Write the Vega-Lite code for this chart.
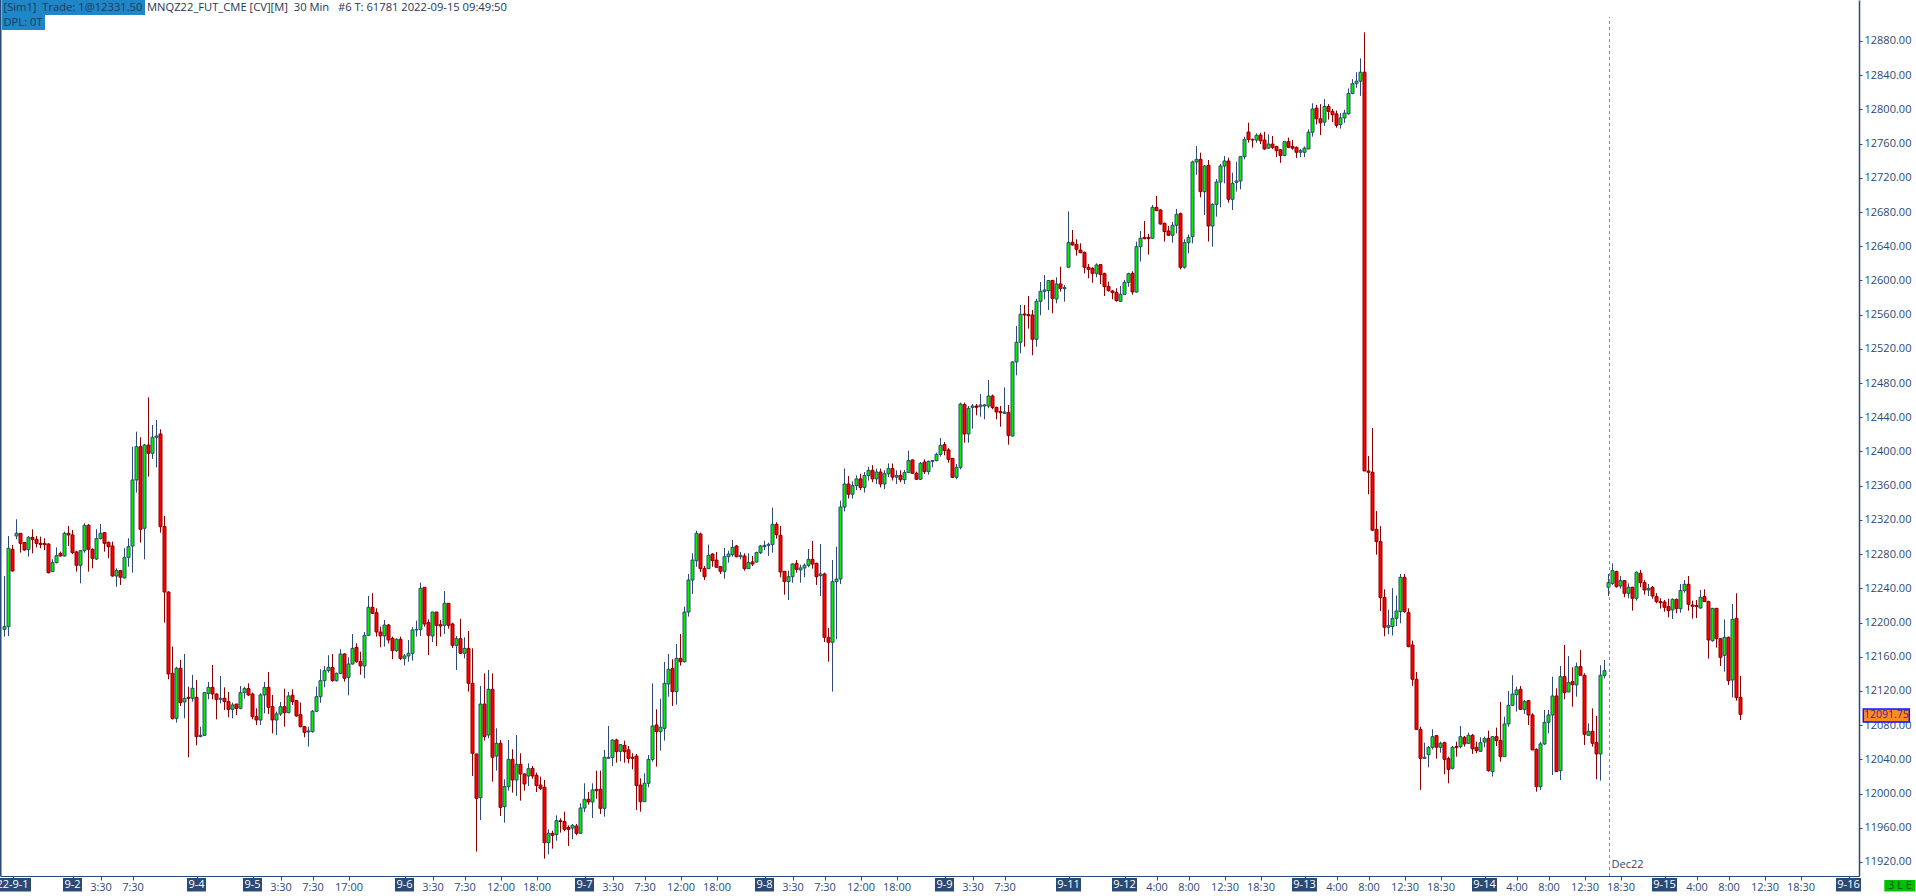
{
"$schema":"https://vega.github.io/schema/vega-lite/v6.json",
"width":1859,"height":876,
"autosize":{"type":"none"},
"padding":{"left":0,"top":0,"right":57,"bottom":16},
"background":"#ffffff",
"config":{"view":{"stroke":null},"font":"Open Sans","scale":{"continuousPadding":0},"axis":{"labelOverlap":false}},
"datasets":{
"bars":[
{"bar":0,"open":12192.0,"high":12254.4,"low":12183.5,"close":12195.2},
{"bar":1,"open":12195.2,"high":12301.2,"low":12184.3,"close":12286.8},
{"bar":2,"open":12285.6,"high":12290.7,"low":12259.5,"close":12260.3},
{"bar":3,"open":12301.2,"high":12320.7,"low":12297.3,"close":12304.3},
{"bar":4,"open":12304.3,"high":12304.3,"low":12281.7,"close":12292.6},
{"bar":5,"open":12293.4,"high":12294.2,"low":12284.0,"close":12284.8},
{"bar":6,"open":12285.6,"high":12301.2,"low":12277.0,"close":12299.6},
{"bar":7,"open":12299.6,"high":12309.0,"low":12280.9,"close":12297.3},
{"bar":8,"open":12297.3,"high":12301.2,"low":12287.9,"close":12292.6},
{"bar":9,"open":12292.6,"high":12300.4,"low":12286.8,"close":12291.4},
{"bar":10,"open":12292.6,"high":12298.5,"low":12284.8,"close":12291.1},
{"bar":11,"open":12291.8,"high":12292.6,"low":12257.5,"close":12258.3},
{"bar":12,"open":12259.5,"high":12273.9,"low":12259.5,"close":12270.0},
{"bar":13,"open":12270.0,"high":12287.9,"low":12269.2,"close":12278.2},
{"bar":14,"open":12280.9,"high":12282.9,"low":12277.0,"close":12277.8},
{"bar":15,"open":12277.8,"high":12306.3,"low":12277.0,"close":12304.3},
{"bar":16,"open":12304.3,"high":12312.9,"low":12289.5,"close":12302.4},
{"bar":17,"open":12302.4,"high":12308.2,"low":12280.1,"close":12281.7},
{"bar":18,"open":12282.5,"high":12284.0,"low":12259.5,"close":12266.9},
{"bar":19,"open":12266.9,"high":12284.8,"low":12245.8,"close":12284.0},
{"bar":20,"open":12284.0,"high":12316.0,"low":12281.7,"close":12313.7},
{"bar":21,"open":12313.7,"high":12315.2,"low":12259.5,"close":12285.6},
{"bar":22,"open":12285.6,"high":12286.8,"low":12263.4,"close":12275.1},
{"bar":23,"open":12274.3,"high":12309.0,"low":12273.1,"close":12298.1},
{"bar":24,"open":12298.1,"high":12315.2,"low":12297.3,"close":12304.3},
{"bar":25,"open":12305.1,"high":12305.9,"low":12282.9,"close":12292.6},
{"bar":26,"open":12293.8,"high":12294.6,"low":12275.1,"close":12288.7},
{"bar":27,"open":12289.5,"high":12294.6,"low":12253.6,"close":12254.4},
{"bar":28,"open":12254.4,"high":12263.4,"low":12241.9,"close":12260.7},
{"bar":29,"open":12260.7,"high":12261.4,"low":12243.9,"close":12252.9},
{"bar":30,"open":12252.1,"high":12286.8,"low":12251.3,"close":12276.2},
{"bar":31,"open":12276.2,"high":12298.5,"low":12265.3,"close":12288.7},
{"bar":32,"open":12289.5,"high":12405.6,"low":12258.3,"close":12366.7},
{"bar":33,"open":12366.7,"high":12423.2,"low":12351.9,"close":12405.6},
{"bar":34,"open":12405.6,"high":12416.6,"low":12293.4,"close":12309.0},
{"bar":35,"open":12310.2,"high":12408.8,"low":12273.9,"close":12407.6},
{"bar":36,"open":12407.6,"high":12463.3,"low":12370.6,"close":12397.9},
{"bar":37,"open":12397.9,"high":12431.0,"low":12391.2,"close":12416.6},
{"bar":38,"open":12416.6,"high":12436.8,"low":12381.5,"close":12418.1},
{"bar":39,"open":12420.5,"high":12425.9,"low":12305.1,"close":12312.1},
{"bar":40,"open":12312.1,"high":12324.6,"low":12199.9,"close":12235.7},
{"bar":41,"open":12235.7,"high":12236.5,"low":12133.6,"close":12139.8},
{"bar":42,"open":12140.6,"high":12171.8,"low":12086.8,"close":12087.6},
{"bar":43,"open":12088.0,"high":12148.4,"low":12082.9,"close":12146.5},
{"bar":44,"open":12146.5,"high":12156.2,"low":12102.4,"close":12106.3},
{"bar":45,"open":12107.1,"high":12163.2,"low":12088.0,"close":12111.4},
{"bar":46,"open":12112.5,"high":12125.0,"low":12042.4,"close":12111.4},
{"bar":47,"open":12111.4,"high":12138.7,"low":12107.5,"close":12123.1},
{"bar":48,"open":12112.5,"high":12132.8,"low":12056.4,"close":12066.6},
{"bar":49,"open":12066.6,"high":12078.2,"low":12065.8,"close":12068.1},
{"bar":50,"open":12068.1,"high":12118.8,"low":12067.3,"close":12118.0},
{"bar":51,"open":12117.2,"high":12130.5,"low":12110.2,"close":12124.2},
{"bar":52,"open":12124.2,"high":12150.4,"low":12110.2,"close":12116.4},
{"bar":53,"open":12116.4,"high":12117.2,"low":12086.8,"close":12110.2},
{"bar":54,"open":12110.2,"high":12137.5,"low":12105.5,"close":12111.4},
{"bar":55,"open":12111.4,"high":12124.2,"low":12097.7,"close":12107.5},
{"bar":56,"open":12107.5,"high":12118.8,"low":12089.2,"close":12098.5},
{"bar":57,"open":12098.5,"high":12106.3,"low":12088.0,"close":12103.6},
{"bar":58,"open":12104.7,"high":12104.7,"low":12091.9,"close":12099.7},
{"bar":59,"open":12099.7,"high":12125.8,"low":12098.5,"close":12118.0},
{"bar":60,"open":12118.0,"high":12125.0,"low":12111.0,"close":12122.7},
{"bar":61,"open":12122.7,"high":12128.9,"low":12114.1,"close":12115.3},
{"bar":62,"open":12116.4,"high":12118.0,"low":12086.8,"close":12089.9},
{"bar":63,"open":12089.9,"high":12099.7,"low":12080.2,"close":12086.0},
{"bar":64,"open":12086.0,"high":12117.2,"low":12080.2,"close":12115.3},
{"bar":65,"open":12115.3,"high":12130.5,"low":12093.8,"close":12124.2},
{"bar":66,"open":12124.2,"high":12142.2,"low":12093.1,"close":12100.9},
{"bar":67,"open":12101.6,"high":12115.3,"low":12070.4,"close":12086.0},
{"bar":68,"open":12086.0,"high":12095.8,"low":12068.5,"close":12093.1},
{"bar":69,"open":12093.1,"high":12107.1,"low":12090.7,"close":12101.6},
{"bar":70,"open":12101.6,"high":12122.7,"low":12078.2,"close":12094.6},
{"bar":71,"open":12094.6,"high":12118.8,"low":12093.8,"close":12114.1},
{"bar":72,"open":12114.9,"high":12121.9,"low":12103.6,"close":12107.5},
{"bar":73,"open":12108.6,"high":12109.4,"low":12089.9,"close":12090.7},
{"bar":74,"open":12092.3,"high":12106.3,"low":12077.5,"close":12078.2},
{"bar":75,"open":12078.2,"high":12079.0,"low":12065.8,"close":12071.6},
{"bar":76,"open":12072.0,"high":12078.2,"low":12054.9,"close":12073.2},
{"bar":77,"open":12072.4,"high":12097.7,"low":12071.2,"close":12096.2},
{"bar":78,"open":12096.2,"high":12125.0,"low":12095.4,"close":12113.3},
{"bar":79,"open":12113.3,"high":12145.3,"low":12106.3,"close":12132.0},
{"bar":80,"open":12132.0,"high":12149.2,"low":12124.2,"close":12143.7},
{"bar":81,"open":12143.7,"high":12161.7,"low":12141.4,"close":12147.6},
{"bar":82,"open":12147.6,"high":12163.2,"low":12130.9,"close":12132.0},
{"bar":83,"open":12132.0,"high":12141.4,"low":12130.9,"close":12140.6},
{"bar":84,"open":12140.6,"high":12168.7,"low":12139.8,"close":12163.2},
{"bar":85,"open":12163.2,"high":12164.0,"low":12130.9,"close":12134.8},
{"bar":86,"open":12135.9,"high":12159.3,"low":12114.9,"close":12151.5},
{"bar":87,"open":12151.5,"high":12186.6,"low":12150.7,"close":12169.8},
{"bar":88,"open":12171.0,"high":12175.7,"low":12153.1,"close":12154.2},
{"bar":89,"open":12154.2,"high":12165.9,"low":12139.0,"close":12149.2},
{"bar":90,"open":12149.2,"high":12188.9,"low":12134.8,"close":12185.0},
{"bar":91,"open":12185.0,"high":12231.0,"low":12184.3,"close":12217.8},
{"bar":92,"open":12217.8,"high":12234.2,"low":12210.0,"close":12210.8},
{"bar":93,"open":12211.5,"high":12216.6,"low":12183.5,"close":12188.9},
{"bar":94,"open":12188.9,"high":12195.2,"low":12171.0,"close":12184.3},
{"bar":95,"open":12184.3,"high":12203.0,"low":12171.8,"close":12197.1},
{"bar":96,"open":12197.1,"high":12198.3,"low":12175.7,"close":12179.6},
{"bar":97,"open":12181.5,"high":12183.5,"low":12157.0,"close":12167.1},
{"bar":98,"open":12167.1,"high":12181.5,"low":12165.9,"close":12180.4},
{"bar":99,"open":12180.4,"high":12183.5,"low":12156.2,"close":12158.1},
{"bar":100,"open":12158.1,"high":12163.2,"low":12150.0,"close":12160.9},
{"bar":101,"open":12160.9,"high":12179.6,"low":12154.2,"close":12164.0},
{"bar":102,"open":12164.0,"high":12194.4,"low":12155.4,"close":12191.3},
{"bar":103,"open":12191.3,"high":12202.2,"low":12183.5,"close":12192.0},
{"bar":104,"open":12192.0,"high":12246.6,"low":12184.3,"close":12240.0},
{"bar":105,"open":12241.2,"high":12241.2,"low":12195.2,"close":12198.3},
{"bar":106,"open":12199.8,"high":12203.7,"low":12162.0,"close":12185.0},
{"bar":107,"open":12184.3,"high":12212.3,"low":12177.2,"close":12212.3},
{"bar":108,"open":12212.3,"high":12212.3,"low":12172.6,"close":12196.7},
{"bar":109,"open":12197.5,"high":12203.0,"low":12183.5,"close":12196.0},
{"bar":110,"open":12196.7,"high":12236.9,"low":12186.6,"close":12222.5},
{"bar":111,"open":12222.5,"high":12222.5,"low":12192.8,"close":12196.7},
{"bar":112,"open":12198.3,"high":12199.8,"low":12170.2,"close":12173.3},
{"bar":113,"open":12173.3,"high":12184.3,"low":12144.5,"close":12181.1},
{"bar":114,"open":12181.1,"high":12204.5,"low":12163.2,"close":12164.0},
{"bar":115,"open":12164.0,"high":12182.7,"low":12158.1,"close":12169.8},
{"bar":116,"open":12169.8,"high":12190.1,"low":12119.2,"close":12128.9},
{"bar":117,"open":12128.9,"high":12169.8,"low":12020.5,"close":12047.1},
{"bar":118,"open":12046.3,"high":12046.3,"low":11932.1,"close":11994.4},
{"bar":119,"open":11995.2,"high":12125.8,"low":11969.1,"close":12104.7},
{"bar":120,"open":12104.7,"high":12140.6,"low":12061.9,"close":12066.5},
{"bar":121,"open":12068.5,"high":12144.5,"low":12064.6,"close":12121.9},
{"bar":122,"open":12121.9,"high":12140.6,"low":12013.9,"close":12042.4},
{"bar":123,"open":12043.9,"high":12076.3,"low":12026.8,"close":12058.8},
{"bar":124,"open":12058.8,"high":12062.6,"low":11973.8,"close":11983.9},
{"bar":125,"open":11984.7,"high":12016.7,"low":11966.0,"close":12008.1},
{"bar":126,"open":12008.1,"high":12062.6,"low":12003.4,"close":12040.0},
{"bar":127,"open":12040.0,"high":12051.7,"low":12001.1,"close":12015.9},
{"bar":128,"open":12015.9,"high":12068.5,"low":11997.2,"close":12034.2},
{"bar":129,"open":12034.2,"high":12047.1,"low":11991.7,"close":12022.9},
{"bar":130,"open":12022.9,"high":12023.7,"low":12003.4,"close":12011.2},
{"bar":131,"open":12020.5,"high":12035.4,"low":12008.9,"close":12029.1},
{"bar":132,"open":12029.5,"high":12032.2,"low":12017.4,"close":12020.5},
{"bar":133,"open":12021.3,"high":12024.5,"low":12001.8,"close":12009.3},
{"bar":134,"open":12010.0,"high":12019.8,"low":12004.2,"close":12006.1},
{"bar":135,"open":12007.3,"high":12015.9,"low":11923.9,"close":11942.6},
{"bar":136,"open":11942.6,"high":11958.2,"low":11928.9,"close":11953.5},
{"bar":137,"open":11953.5,"high":11956.6,"low":11935.6,"close":11951.2},
{"bar":138,"open":11952.0,"high":11974.6,"low":11944.9,"close":11968.3},
{"bar":139,"open":11968.3,"high":11971.1,"low":11954.3,"close":11967.2},
{"bar":140,"open":11967.2,"high":11978.8,"low":11955.9,"close":11958.2},
{"bar":141,"open":11960.5,"high":11962.9,"low":11938.7,"close":11958.2},
{"bar":142,"open":11959.7,"high":11964.4,"low":11946.5,"close":11962.9},
{"bar":143,"open":11962.1,"high":11964.4,"low":11951.2,"close":11953.5},
{"bar":144,"open":11953.5,"high":11988.6,"low":11952.7,"close":11983.1},
{"bar":145,"open":11983.1,"high":12012.0,"low":11978.5,"close":11993.3},
{"bar":146,"open":11993.3,"high":12001.8,"low":11987.0,"close":11990.2},
{"bar":147,"open":11990.2,"high":12012.0,"low":11971.4,"close":12004.2},
{"bar":148,"open":12005.0,"high":12026.8,"low":11994.0,"close":12003.4},
{"bar":149,"open":12005.0,"high":12026.8,"low":11976.1,"close":11982.7},
{"bar":150,"open":11982.7,"high":12051.0,"low":11973.0,"close":12042.4},
{"bar":151,"open":12041.2,"high":12079.0,"low":12041.2,"close":12042.4},
{"bar":152,"open":12042.4,"high":12063.4,"low":12032.2,"close":12062.6},
{"bar":153,"open":12062.6,"high":12064.2,"low":12036.1,"close":12049.0},
{"bar":154,"open":12049.4,"high":12058.0,"low":12037.7,"close":12057.2},
{"bar":155,"open":12056.4,"high":12061.9,"low":12036.1,"close":12049.0},
{"bar":156,"open":12051.0,"high":12055.6,"low":12035.4,"close":12041.2},
{"bar":157,"open":12042.4,"high":12047.1,"low":12028.3,"close":12041.2},
{"bar":158,"open":12043.9,"high":12046.3,"low":11980.8,"close":12009.3},
{"bar":159,"open":12010.0,"high":12017.8,"low":11978.8,"close":11990.5},
{"bar":160,"open":11990.5,"high":12023.7,"low":11990.5,"close":12012.0},
{"bar":161,"open":12012.0,"high":12045.1,"low":12007.3,"close":12040.0},
{"bar":162,"open":12040.0,"high":12128.9,"low":12037.3,"close":12079.0},
{"bar":163,"open":12080.2,"high":12098.5,"low":12031.5,"close":12072.4},
{"bar":164,"open":12072.4,"high":12111.0,"low":12050.2,"close":12077.5},
{"bar":165,"open":12076.3,"high":12153.9,"low":12061.9,"close":12128.9},
{"bar":166,"open":12128.1,"high":12163.2,"low":12113.3,"close":12145.3},
{"bar":167,"open":12146.1,"high":12157.0,"low":12102.4,"close":12119.2},
{"bar":168,"open":12119.2,"high":12174.9,"low":12104.0,"close":12158.1},
{"bar":169,"open":12158.1,"high":12186.6,"low":12149.6,"close":12154.2},
{"bar":170,"open":12154.2,"high":12218.6,"low":12153.1,"close":12212.3},
{"bar":171,"open":12212.3,"high":12256.8,"low":12206.9,"close":12249.7},
{"bar":172,"open":12249.7,"high":12280.9,"low":12233.4,"close":12273.1},
{"bar":173,"open":12272.3,"high":12307.4,"low":12265.3,"close":12304.3},
{"bar":174,"open":12303.5,"high":12305.1,"low":12259.1,"close":12263.0},
{"bar":175,"open":12263.0,"high":12266.1,"low":12249.7,"close":12253.6},
{"bar":176,"open":12263.0,"high":12291.1,"low":12263.0,"close":12278.6},
{"bar":177,"open":12280.1,"high":12280.9,"low":12265.3,"close":12272.3},
{"bar":178,"open":12273.1,"high":12282.5,"low":12264.6,"close":12264.6},
{"bar":179,"open":12265.3,"high":12266.1,"low":12256.8,"close":12259.9},
{"bar":180,"open":12259.9,"high":12287.2,"low":12251.3,"close":12277.0},
{"bar":181,"open":12277.0,"high":12284.0,"low":12270.0,"close":12280.1},
{"bar":182,"open":12279.4,"high":12296.5,"low":12277.0,"close":12287.9},
{"bar":183,"open":12289.5,"high":12290.7,"low":12276.2,"close":12277.0},
{"bar":184,"open":12277.0,"high":12282.5,"low":12273.9,"close":12278.6},
{"bar":185,"open":12277.8,"high":12280.9,"low":12260.6,"close":12263.0},
{"bar":186,"open":12263.0,"high":12280.9,"low":12263.0,"close":12270.0},
{"bar":187,"open":12270.8,"high":12277.8,"low":12266.1,"close":12268.4},
{"bar":188,"open":12270.8,"high":12282.9,"low":12270.0,"close":12281.7},
{"bar":189,"open":12281.7,"high":12290.7,"low":12280.1,"close":12289.5},
{"bar":190,"open":12288.7,"high":12295.7,"low":12284.8,"close":12290.3},
{"bar":191,"open":12290.3,"high":12293.4,"low":12277.8,"close":12291.4},
{"bar":192,"open":12291.4,"high":12334.3,"low":12281.7,"close":12314.8},
{"bar":193,"open":12314.8,"high":12317.2,"low":12298.1,"close":12302.7},
{"bar":194,"open":12302.0,"high":12312.9,"low":12252.9,"close":12259.1},
{"bar":195,"open":12259.9,"high":12259.9,"low":12232.6,"close":12247.8},
{"bar":196,"open":12247.8,"high":12260.6,"low":12226.3,"close":12253.6},
{"bar":197,"open":12253.6,"high":12269.2,"low":12246.6,"close":12268.4},
{"bar":198,"open":12269.2,"high":12273.1,"low":12258.3,"close":12262.2},
{"bar":199,"open":12261.4,"high":12267.7,"low":12246.6,"close":12263.8},
{"bar":200,"open":12263.8,"high":12269.2,"low":12252.9,"close":12266.9},
{"bar":201,"open":12266.9,"high":12286.0,"low":12264.6,"close":12273.9},
{"bar":202,"open":12273.9,"high":12295.3,"low":12263.0,"close":12268.4},
{"bar":203,"open":12269.2,"high":12270.0,"low":12243.9,"close":12253.6},
{"bar":204,"open":12254.8,"high":12291.8,"low":12231.0,"close":12256.8},
{"bar":205,"open":12256.8,"high":12258.3,"low":12177.2,"close":12182.7},
{"bar":206,"open":12182.7,"high":12193.6,"low":12154.2,"close":12176.9},
{"bar":207,"open":12176.9,"high":12273.1,"low":12119.2,"close":12247.8},
{"bar":208,"open":12247.8,"high":12288.7,"low":12180.4,"close":12250.9},
{"bar":209,"open":12250.9,"high":12342.5,"low":12245.0,"close":12335.0},
{"bar":210,"open":12335.0,"high":12380.3,"low":12330.0,"close":12362.0},
{"bar":211,"open":12362.0,"high":12371.4,"low":12345.0,"close":12350.0},
{"bar":212,"open":12350.0,"high":12365.0,"low":12345.0,"close":12360.0},
{"bar":213,"open":12360.0,"high":12372.0,"low":12355.0,"close":12368.0},
{"bar":214,"open":12368.0,"high":12374.0,"low":12355.0,"close":12358.0},
{"bar":215,"open":12358.0,"high":12376.0,"low":12352.0,"close":12372.0},
{"bar":216,"open":12372.0,"high":12382.0,"low":12366.0,"close":12378.0},
{"bar":217,"open":12378.0,"high":12384.0,"low":12364.0,"close":12368.0},
{"bar":218,"open":12368.0,"high":12380.0,"low":12362.0,"close":12376.0},
{"bar":219,"open":12376.0,"high":12380.0,"low":12358.0,"close":12362.0},
{"bar":220,"open":12362.0,"high":12378.0,"low":12356.0,"close":12374.0},
{"bar":221,"open":12374.0,"high":12386.0,"low":12370.0,"close":12380.0},
{"bar":222,"open":12380.0,"high":12386.0,"low":12366.0,"close":12370.0},
{"bar":223,"open":12370.0,"high":12378.0,"low":12362.0,"close":12372.0},
{"bar":224,"open":12372.0,"high":12378.0,"low":12364.0,"close":12367.0},
{"bar":225,"open":12367.0,"high":12378.4,"low":12362.0,"close":12375.3},
{"bar":226,"open":12375.3,"high":12401.0,"low":12375.3,"close":12389.3},
{"bar":227,"open":12390.1,"high":12390.8,"low":12374.5,"close":12374.5},
{"bar":228,"open":12374.5,"high":12376.4,"low":12366.7,"close":12367.5},
{"bar":229,"open":12367.5,"high":12387.7,"low":12366.7,"close":12386.2},
{"bar":230,"open":12387.7,"high":12390.8,"low":12373.7,"close":12376.4},
{"bar":231,"open":12376.4,"high":12389.3,"low":12372.9,"close":12388.5},
{"bar":232,"open":12388.5,"high":12390.1,"low":12381.5,"close":12389.3},
{"bar":233,"open":12389.3,"high":12398.6,"low":12388.5,"close":12396.7},
{"bar":234,"open":12396.7,"high":12415.8,"low":12394.0,"close":12407.2},
{"bar":235,"open":12408.0,"high":12411.1,"low":12395.5,"close":12401.0},
{"bar":236,"open":12401.8,"high":12404.1,"low":12386.9,"close":12390.8},
{"bar":237,"open":12392.0,"high":12392.0,"low":12369.0,"close":12369.8},
{"bar":238,"open":12369.8,"high":12385.4,"low":12367.5,"close":12381.5},
{"bar":239,"open":12381.5,"high":12457.1,"low":12379.1,"close":12455.5},
{"bar":240,"open":12454.8,"high":12457.1,"low":12410.3,"close":12420.5},
{"bar":241,"open":12420.5,"high":12453.2,"low":12410.3,"close":12450.5},
{"bar":242,"open":12451.6,"high":12455.5,"low":12426.7,"close":12453.2},
{"bar":243,"open":12453.2,"high":12455.5,"low":12442.3,"close":12451.6},
{"bar":244,"open":12452.4,"high":12467.2,"low":12440.7,"close":12454.4},
{"bar":245,"open":12453.2,"high":12455.5,"low":12437.6,"close":12454.4},
{"bar":246,"open":12453.2,"high":12483.6,"low":12450.5,"close":12464.9},
{"bar":247,"open":12464.9,"high":12466.5,"low":12449.3,"close":12451.6},
{"bar":248,"open":12451.6,"high":12452.4,"low":12437.6,"close":12446.2},
{"bar":249,"open":12446.6,"high":12453.2,"low":12429.0,"close":12445.4},
{"bar":250,"open":12444.6,"high":12475.0,"low":12443.9,"close":12446.2},
{"bar":251,"open":12445.4,"high":12454.4,"low":12408.0,"close":12418.9},
{"bar":252,"open":12418.1,"high":12505.4,"low":12417.3,"close":12504.7},
{"bar":253,"open":12504.7,"high":12546.8,"low":12489.1,"close":12527.7},
{"bar":254,"open":12527.7,"high":12571.3,"low":12514.8,"close":12560.4},
{"bar":255,"open":12560.8,"high":12571.3,"low":12522.6,"close":12559.6},
{"bar":256,"open":12560.0,"high":12581.8,"low":12543.6,"close":12558.8},
{"bar":257,"open":12559.6,"high":12565.5,"low":12512.5,"close":12531.2},
{"bar":258,"open":12531.2,"high":12578.7,"low":12522.6,"close":12575.6},
{"bar":259,"open":12575.6,"high":12598.2,"low":12559.2,"close":12587.3},
{"bar":260,"open":12587.3,"high":12606.4,"low":12577.9,"close":12588.8},
{"bar":261,"open":12588.1,"high":12600.5,"low":12565.5,"close":12599.8},
{"bar":262,"open":12600.1,"high":12600.1,"low":12561.6,"close":12579.1},
{"bar":263,"open":12578.3,"high":12603.7,"low":12573.3,"close":12595.9},
{"bar":264,"open":12595.9,"high":12616.1,"low":12586.9,"close":12590.8},
{"bar":265,"open":12590.4,"high":12594.7,"low":12575.2,"close":12591.6},
{"bar":266,"open":12615.4,"high":12680.8,"low":12615.4,"close":12644.2},
{"bar":267,"open":12644.6,"high":12659.0,"low":12640.7,"close":12641.5},
{"bar":268,"open":12642.2,"high":12648.1,"low":12629.0,"close":12636.4},
{"bar":269,"open":12635.6,"high":12643.4,"low":12631.7,"close":12632.5},
{"bar":270,"open":12632.9,"high":12633.7,"low":12608.3,"close":12615.4},
{"bar":271,"open":12615.4,"high":12619.2,"low":12602.5,"close":12613.0},
{"bar":272,"open":12614.2,"high":12615.4,"low":12597.4,"close":12608.3},
{"bar":273,"open":12608.3,"high":12620.0,"low":12603.7,"close":12618.1},
{"bar":274,"open":12618.5,"high":12619.2,"low":12595.9,"close":12606.8},
{"bar":275,"open":12607.9,"high":12609.1,"low":12581.8,"close":12592.7},
{"bar":276,"open":12593.1,"high":12598.6,"low":12586.9,"close":12588.1},
{"bar":277,"open":12587.7,"high":12588.8,"low":12577.9,"close":12585.7},
{"bar":278,"open":12586.1,"high":12590.8,"low":12575.2,"close":12576.4},
{"bar":279,"open":12575.6,"high":12593.5,"low":12575.2,"close":12583.8},
{"bar":280,"open":12583.8,"high":12600.5,"low":12583.4,"close":12597.8},
{"bar":281,"open":12597.8,"high":12609.1,"low":12592.7,"close":12607.9},
{"bar":282,"open":12608.3,"high":12610.7,"low":12583.4,"close":12586.5},
{"bar":283,"open":12586.5,"high":12645.4,"low":12585.7,"close":12639.5},
{"bar":284,"open":12639.5,"high":12657.8,"low":12622.0,"close":12649.3},
{"bar":285,"open":12650.4,"high":12669.5,"low":12648.1,"close":12648.9},
{"bar":286,"open":12650.4,"high":12654.3,"low":12630.2,"close":12648.9},
{"bar":287,"open":12649.3,"high":12688.2,"low":12649.3,"close":12685.5},
{"bar":288,"open":12685.5,"high":12698.8,"low":12681.6,"close":12681.6},
{"bar":289,"open":12682.4,"high":12683.2,"low":12665.2,"close":12666.0},
{"bar":290,"open":12666.8,"high":12667.6,"low":12645.4,"close":12657.1},
{"bar":291,"open":12657.8,"high":12663.7,"low":12652.0,"close":12652.8},
{"bar":292,"open":12652.8,"high":12668.4,"low":12644.2,"close":12664.5},
{"bar":293,"open":12664.5,"high":12683.6,"low":12655.1,"close":12677.3},
{"bar":294,"open":12678.1,"high":12679.3,"low":12613.0,"close":12615.4},
{"bar":295,"open":12615.4,"high":12648.1,"low":12613.8,"close":12644.2},
{"bar":296,"open":12644.2,"high":12653.9,"low":12631.7,"close":12650.4},
{"bar":297,"open":12651.2,"high":12740.1,"low":12643.4,"close":12738.5},
{"bar":298,"open":12738.5,"high":12757.2,"low":12723.7,"close":12741.6},
{"bar":299,"open":12741.6,"high":12749.4,"low":12697.2,"close":12703.8},
{"bar":300,"open":12703.8,"high":12735.0,"low":12676.5,"close":12733.8},
{"bar":301,"open":12734.6,"high":12740.9,"low":12645.4,"close":12663.7},
{"bar":302,"open":12663.7,"high":12690.2,"low":12639.5,"close":12689.0},
{"bar":303,"open":12689.0,"high":12718.6,"low":12674.6,"close":12715.1},
{"bar":304,"open":12715.1,"high":12736.2,"low":12685.5,"close":12733.8},
{"bar":305,"open":12733.8,"high":12745.5,"low":12713.6,"close":12739.7},
{"bar":306,"open":12739.7,"high":12743.6,"low":12691.0,"close":12694.9},
{"bar":307,"open":12694.9,"high":12726.0,"low":12682.4,"close":12713.6},
{"bar":308,"open":12714.7,"high":12738.9,"low":12703.8,"close":12716.3},
{"bar":309,"open":12716.3,"high":12745.5,"low":12706.5,"close":12744.7},
{"bar":310,"open":12744.7,"high":12768.1,"low":12741.6,"close":12765.0},
{"bar":311,"open":12773.6,"high":12784.5,"low":12761.1,"close":12765.0},
{"bar":312,"open":12765.0,"high":12765.8,"low":12755.3,"close":12764.2},
{"bar":313,"open":12764.2,"high":12772.0,"low":12761.1,"close":12769.7},
{"bar":314,"open":12770.0,"high":12772.8,"low":12759.5,"close":12763.3},
{"bar":315,"open":12764.2,"high":12773.8,"low":12752.8,"close":12753.7},
{"bar":316,"open":12754.7,"high":12770.9,"low":12753.7,"close":12759.5},
{"bar":317,"open":12759.5,"high":12769.0,"low":12753.7,"close":12755.7},
{"bar":318,"open":12756.6,"high":12757.6,"low":12744.2,"close":12751.8},
{"bar":319,"open":12752.8,"high":12753.7,"low":12737.5,"close":12746.1},
{"bar":320,"open":12746.1,"high":12763.3,"low":12745.2,"close":12762.3},
{"bar":321,"open":12762.3,"high":12767.1,"low":12754.7,"close":12755.7},
{"bar":322,"open":12756.6,"high":12764.2,"low":12752.8,"close":12754.7},
{"bar":323,"open":12755.7,"high":12756.6,"low":12743.2,"close":12749.9},
{"bar":324,"open":12749.9,"high":12753.7,"low":12744.2,"close":12751.8},
{"bar":325,"open":12749.9,"high":12756.6,"low":12744.2,"close":12754.7},
{"bar":326,"open":12753.7,"high":12776.7,"low":12753.7,"close":12773.3},
{"bar":327,"open":12773.3,"high":12807.2,"low":12768.1,"close":12800.5},
{"bar":328,"open":12801.5,"high":12805.3,"low":12782.4,"close":12789.1},
{"bar":329,"open":12789.1,"high":12806.2,"low":12770.0,"close":12784.3},
{"bar":330,"open":12785.2,"high":12812.0,"low":12780.5,"close":12803.4},
{"bar":331,"open":12803.4,"high":12806.2,"low":12788.1,"close":12797.7},
{"bar":332,"open":12797.7,"high":12800.5,"low":12785.2,"close":12793.8},
{"bar":333,"open":12794.8,"high":12798.6,"low":12778.6,"close":12781.4},
{"bar":334,"open":12782.4,"high":12795.7,"low":12777.6,"close":12790.0},
{"bar":335,"open":12790.0,"high":12799.6,"low":12784.3,"close":12795.7},
{"bar":336,"open":12794.8,"high":12824.4,"low":12793.8,"close":12818.7},
{"bar":337,"open":12818.7,"high":12835.4,"low":12817.7,"close":12830.1},
{"bar":338,"open":12830.1,"high":12843.5,"low":12825.3,"close":12833.0},
{"bar":339,"open":12833.0,"high":12859.7,"low":12815.8,"close":12843.5},
{"bar":340,"open":12843.5,"high":12890.2,"low":12377.2,"close":12377.2},
{"bar":341,"open":12377.2,"high":12394.8,"low":12350.0,"close":12375.7},
{"bar":342,"open":12375.7,"high":12427.3,"low":12307.0,"close":12308.0},
{"bar":343,"open":12308.9,"high":12330.4,"low":12279.3,"close":12294.6},
{"bar":344,"open":12294.6,"high":12312.8,"low":12213.5,"close":12229.2},
{"bar":345,"open":12229.2,"high":12238.8,"low":12183.9,"close":12194.4},
{"bar":346,"open":12194.4,"high":12214.9,"low":12186.3,"close":12196.3},
{"bar":347,"open":12195.3,"high":12240.2,"low":12184.8,"close":12204.9},
{"bar":348,"open":12204.9,"high":12231.6,"low":12195.8,"close":12213.5},
{"bar":349,"open":12212.7,"high":12256.8,"low":12199.1,"close":12252.9},
{"bar":350,"open":12252.9,"high":12256.8,"low":12211.5,"close":12212.7},
{"bar":351,"open":12211.5,"high":12216.6,"low":12171.0,"close":12171.8},
{"bar":352,"open":12173.7,"high":12178.8,"low":12125.8,"close":12133.6},
{"bar":353,"open":12133.6,"high":12142.2,"low":12074.3,"close":12075.1},
{"bar":354,"open":12075.1,"high":12078.2,"low":12004.2,"close":12041.2},
{"bar":355,"open":12041.2,"high":12059.5,"low":12041.2,"close":12042.4},
{"bar":356,"open":12045.5,"high":12055.6,"low":12030.7,"close":12054.1},
{"bar":357,"open":12054.1,"high":12075.1,"low":12051.7,"close":12066.5},
{"bar":358,"open":12067.7,"high":12068.5,"low":12040.8,"close":12054.1},
{"bar":359,"open":12054.1,"high":12060.7,"low":12047.8,"close":12058.8},
{"bar":360,"open":12059.5,"high":12060.7,"low":12022.5,"close":12040.0},
{"bar":361,"open":12040.8,"high":12043.2,"low":12012.0,"close":12028.3},
{"bar":362,"open":12029.5,"high":12055.6,"low":12028.3,"close":12054.1},
{"bar":363,"open":12054.9,"high":12060.7,"low":12043.2,"close":12053.7},
{"bar":364,"open":12054.9,"high":12079.0,"low":12052.9,"close":12066.5},
{"bar":365,"open":12065.8,"high":12067.3,"low":12054.9,"close":12058.0},
{"bar":366,"open":12058.8,"high":12071.2,"low":12058.0,"close":12068.1},
{"bar":367,"open":12068.1,"high":12069.7,"low":12046.3,"close":12052.5},
{"bar":368,"open":12054.1,"high":12060.7,"low":12047.1,"close":12050.2},
{"bar":369,"open":12049.4,"high":12065.8,"low":12048.6,"close":12059.5},
{"bar":370,"open":12060.3,"high":12066.5,"low":12054.1,"close":12064.2},
{"bar":371,"open":12064.6,"high":12073.6,"low":12025.6,"close":12026.8},
{"bar":372,"open":12025.6,"high":12067.3,"low":12019.8,"close":12066.5},
{"bar":373,"open":12066.5,"high":12077.1,"low":12055.6,"close":12061.9},
{"bar":374,"open":12061.9,"high":12107.1,"low":12037.3,"close":12043.2},
{"bar":375,"open":12043.2,"high":12089.9,"low":12043.2,"close":12081.4},
{"bar":376,"open":12081.4,"high":12119.9,"low":12078.2,"close":12103.2},
{"bar":377,"open":12103.2,"high":12138.3,"low":12102.4,"close":12116.4},
{"bar":378,"open":12115.7,"high":12125.0,"low":12095.8,"close":12121.1},
{"bar":379,"open":12121.9,"high":12125.8,"low":12097.7,"close":12098.5},
{"bar":380,"open":12098.5,"high":12109.4,"low":12093.1,"close":12107.5},
{"bar":381,"open":12108.6,"high":12109.4,"low":12080.2,"close":12091.9},
{"bar":382,"open":12091.9,"high":12093.8,"low":12051.0,"close":12051.0},
{"bar":383,"open":12051.7,"high":12052.9,"low":12002.2,"close":12008.1},
{"bar":384,"open":12008.1,"high":12060.7,"low":12004.2,"close":12058.0},
{"bar":385,"open":12058.0,"high":12097.7,"low":12056.8,"close":12083.3},
{"bar":386,"open":12083.3,"high":12097.7,"low":12070.4,"close":12091.9},
{"bar":387,"open":12091.9,"high":12136.7,"low":12021.7,"close":12114.1},
{"bar":388,"open":12114.1,"high":12123.1,"low":12025.6,"close":12025.6},
{"bar":389,"open":12026.8,"high":12149.2,"low":12015.9,"close":12136.7},
{"bar":390,"open":12136.7,"high":12173.7,"low":12110.2,"close":12118.0},
{"bar":391,"open":12118.8,"high":12160.9,"low":12118.8,"close":12129.7},
{"bar":392,"open":12130.9,"high":12147.6,"low":12101.6,"close":12127.3},
{"bar":393,"open":12127.0,"high":12153.1,"low":12113.3,"close":12148.4},
{"bar":394,"open":12148.4,"high":12167.9,"low":12138.3,"close":12138.3},
{"bar":395,"open":12138.3,"high":12140.6,"low":12056.8,"close":12069.3},
{"bar":396,"open":12068.1,"high":12082.1,"low":12068.1,"close":12072.8},
{"bar":397,"open":12072.8,"high":12099.7,"low":12054.9,"close":12058.8},
{"bar":398,"open":12059.5,"high":12090.7,"low":12016.7,"close":12046.3},
{"bar":399,"open":12046.3,"high":12150.0,"low":12015.1,"close":12138.3},
{"bar":400,"open":12138.3,"high":12156.2,"low":12134.8,"close":12143.7},
{"bar":401,"open":12241.2,"high":12256.8,"low":12231.0,"close":12246.6},
{"bar":402,"open":12245.8,"high":12269.2,"low":12243.9,"close":12260.7},
{"bar":403,"open":12259.5,"high":12260.7,"low":12240.8,"close":12241.9},
{"bar":404,"open":12242.7,"high":12254.4,"low":12239.6,"close":12249.0},
{"bar":405,"open":12249.0,"high":12249.7,"low":12229.5,"close":12234.2},
{"bar":406,"open":12234.2,"high":12245.8,"low":12228.3,"close":12241.2},
{"bar":407,"open":12241.2,"high":12241.9,"low":12213.9,"close":12228.3},
{"bar":408,"open":12228.3,"high":12259.9,"low":12225.6,"close":12258.7},
{"bar":409,"open":12257.5,"high":12261.4,"low":12241.2,"close":12246.6},
{"bar":410,"open":12246.6,"high":12249.7,"low":12232.6,"close":12238.0},
{"bar":411,"open":12238.0,"high":12245.1,"low":12231.0,"close":12240.0},
{"bar":412,"open":12241.2,"high":12242.7,"low":12227.9,"close":12231.0},
{"bar":413,"open":12230.3,"high":12234.2,"low":12222.5,"close":12224.4},
{"bar":414,"open":12224.4,"high":12228.3,"low":12216.2,"close":12223.2},
{"bar":415,"open":12224.0,"high":12226.4,"low":12212.7,"close":12217.8},
{"bar":416,"open":12218.6,"high":12227.9,"low":12206.1,"close":12213.9},
{"bar":417,"open":12214.7,"high":12228.3,"low":12204.1,"close":12227.1},
{"bar":418,"open":12227.1,"high":12227.9,"low":12210.8,"close":12216.2},
{"bar":419,"open":12216.2,"high":12245.1,"low":12211.5,"close":12237.3},
{"bar":420,"open":12237.3,"high":12249.7,"low":12234.9,"close":12244.7},
{"bar":421,"open":12244.7,"high":12254.4,"low":12213.9,"close":12221.3},
{"bar":422,"open":12220.5,"high":12225.6,"low":12204.5,"close":12219.0},
{"bar":423,"open":12220.1,"high":12226.4,"low":12205.3,"close":12218.6},
{"bar":424,"open":12217.0,"high":12238.0,"low":12216.2,"close":12229.5},
{"bar":425,"open":12230.3,"high":12238.8,"low":12224.0,"close":12224.4},
{"bar":426,"open":12224.4,"high":12225.6,"low":12157.8,"close":12179.6},
{"bar":427,"open":12178.8,"high":12217.0,"low":12177.6,"close":12216.6},
{"bar":428,"open":12216.6,"high":12216.6,"low":12170.6,"close":12181.1},
{"bar":429,"open":12181.1,"high":12181.9,"low":12149.2,"close":12159.3},
{"bar":430,"open":12161.7,"high":12203.7,"low":12142.6,"close":12182.7},
{"bar":431,"open":12182.7,"high":12183.5,"low":12127.0,"close":12132.0},
{"bar":432,"open":12132.8,"high":12221.7,"low":12112.5,"close":12203.7},
{"bar":433,"open":12204.9,"high":12234.2,"low":12108.6,"close":12112.2},
{"bar":434,"open":12112.5,"high":12137.5,"low":12086.0,"close":12092.7}
],
"dates":[
{"pos":2,"label":"22-9-1"},{"pos":17,"label":"9-2"},{"pos":48,"label":"9-4"},{"pos":62,"label":"9-5"},
{"pos":100,"label":"9-6"},{"pos":145,"label":"9-7"},{"pos":190,"label":"9-8"},{"pos":235,"label":"9-9"},
{"pos":266,"label":"9-11"},{"pos":280,"label":"9-12"},{"pos":325,"label":"9-13"},{"pos":370,"label":"9-14"},
{"pos":415,"label":"9-15"},{"pos":461,"label":"9-16"}
]
},
"layer":[
{
"data":{"name":"bars"},
"mark":{"type":"rule","strokeWidth":1},
"encoding":{
"x":{"field":"bar","type":"quantitative",
"scale":{"domain":[-1.125,463.625],"nice":false,"zero":false,"padding":0},
"axis":{"title":null,"grid":false,"tickCount":200,
"values":[2,17,24,32,48,62,69,77,86,100,107,115,124,133,145,152,160,169,178,190,197,205,214,223,235,242,250,266,280,288,296,305,314,325,333,341,350,359,370,378,386,395,404,415,423,431,440,449,461],
"labelExpr":"indexof([24,32,69,77,86,107,115,124,133,152,160,169,178,197,205,214,223,242,250,288,296,305,314,333,341,350,359,378,386,395,404,423,431,440,449], datum.value) < 0 ? '' : ['3:30','7:30','3:30','7:30','17:00','3:30','7:30','12:00','18:00','3:30','7:30','12:00','18:00','3:30','7:30','12:00','18:00','3:30','7:30','4:00','8:00','12:30','18:30','4:00','8:00','12:30','18:30','4:00','8:00','12:30','18:30','4:00','8:00','12:30','18:30'][indexof([24,32,69,77,86,107,115,124,133,152,160,169,178,197,205,214,223,242,250,288,296,305,314,333,341,350,359,378,386,395,404,423,431,440,449], datum.value)]",
"domainColor":"#2a4a75","domainWidth":1,"tickColor":"#2a4a75","tickSize":4,"tickWidth":1,
"labelColor":"#2a4a75","labelFont":"Open Sans","labelFontSize":11,"labelPadding":1,
"labelOverlap":false,"labelFlush":false,"labelBound":false}},
"y":{"field":"low","type":"quantitative",
"scale":{"domain":[11903.6,12927.94],"nice":false,"zero":false,"padding":0},
"axis":{"title":null,"grid":false,"orient":"right","tickCount":200,
"values":[11920,11960,12000,12040,12080,12120,12160,12200,12240,12280,12320,12360,12400,12440,12480,12520,12560,12600,12640,12680,12720,12760,12800,12840,12880],
"format":".2f","domainColor":"#2a4a75","domainWidth":1.5,"tickColor":"#2a4a75","tickSize":3,
"labelColor":"#2a4a75","labelFont":"Open Sans","labelFontSize":11,"labelPadding":2,"labelOverlap":false}},
"y2":{"field":"high"},
"color":{"condition":{"test":"datum.close >= datum.open","value":"#2c4a74"},"value":"#8b0000"}
}
},
{
"data":{"name":"bars"},
"mark":{"type":"bar","width":3,"strokeWidth":1},
"encoding":{
"x":{"field":"bar","type":"quantitative"},
"y":{"field":"open","type":"quantitative"},
"y2":{"field":"close"},
"fill":{"condition":{"test":"datum.close >= datum.open","value":"#00f000"},"value":"#ff0000"},
"stroke":{"condition":{"test":"datum.close >= datum.open","value":"#2c4a74"},"value":"#8b0000"}
}
},
{
"data":{"values":[{}]},
"mark":{"type":"rule","color":"#2a4a75","strokeWidth":1.5},
"encoding":{"x":{"datum":-0.9375},"y":{"datum":11903.6},"y2":{"datum":12927.94}}
},
{
"data":{"values":[{}]},
"mark":{"type":"rule","color":"#8a8a8a","strokeWidth":1,"strokeDash":[3,3]},
"encoding":{"x":{"datum":401.25},"y":{"datum":11903.6},"y2":{"datum":12908.1}}
},
{
"data":{"values":[{}]},
"mark":{"type":"text","text":"Dec22","align":"left","baseline":"middle","fontSize":11,"font":"Open Sans","color":"#2a4a75","dx":2},
"encoding":{"x":{"datum":401.25},"y":{"datum":11916.5}}
},
{
"data":{"name":"dates"},
"transform":[{"filter":"length(datum.label) == 3"}],
"mark":{"type":"bar","width":19,"color":"#2a4a75"},
"encoding":{"x":{"field":"pos","type":"quantitative"},"y":{"datum":11901.3},"y2":{"datum":11885.5}}
},
{
"data":{"name":"dates"},
"transform":[{"filter":"length(datum.label) == 4"}],
"mark":{"type":"bar","width":25,"color":"#2a4a75"},
"encoding":{"x":{"field":"pos","type":"quantitative"},"y":{"datum":11901.3},"y2":{"datum":11885.5}}
},
{
"data":{"name":"dates"},
"transform":[{"filter":"length(datum.label) == 6"}],
"mark":{"type":"bar","width":37,"color":"#2a4a75"},
"encoding":{"x":{"field":"pos","type":"quantitative"},"y":{"datum":11901.3},"y2":{"datum":11885.5}}
},
{
"data":{"name":"dates"},
"mark":{"type":"text","align":"center","baseline":"middle","fontSize":11,"font":"Open Sans","color":"#ffffff"},
"encoding":{"x":{"field":"pos","type":"quantitative"},"y":{"datum":11893.4},"text":{"field":"label"}}
},
{
"data":{"values":[{}]},
"mark":{"type":"rect","color":"#1f86c7"},
"encoding":{"x":{"datum":-0.625},"x2":{"datum":35.125},"y":{"datum":12927.94},"y2":{"datum":12910.4}}
},
{
"data":{"values":[{}]},
"mark":{"type":"rect","color":"#1f86c7"},
"encoding":{"x":{"datum":-0.625},"x2":{"datum":10.125},"y":{"datum":12910.4},"y2":{"datum":12892.9}}
},
{
"data":{"values":[{}]},
"mark":{"type":"text","text":"[Sim1]\u00a0\u00a0Trade: 1@12331.50","align":"left","baseline":"middle","fontSize":11.2,"font":"Open Sans","color":"#1d3a5c"},
"encoding":{"x":{"datum":-0.25},"y":{"datum":12918.6}}
},
{
"data":{"values":[{}]},
"mark":{"type":"text","text":"MNQZ22_FUT_CME [CV][M]\u00a0\u00a030 Min\u00a0\u00a0\u00a0#6 T: 61781 2022-09-15 09:49:50","align":"left","baseline":"middle","fontSize":11.2,"font":"Open Sans","color":"#1d3557"},
"encoding":{"x":{"datum":35.625},"y":{"datum":12918.6}}
},
{
"data":{"values":[{}]},
"mark":{"type":"text","text":"DPL: 0T","align":"left","baseline":"middle","fontSize":11.2,"font":"Open Sans","color":"#1d3a5c"},
"encoding":{"x":{"datum":-0.25},"y":{"datum":12901.0}}
},
{
"data":{"values":[{}]},
"mark":{"type":"rect","fill":"#ff8c1a","stroke":"#1010ff","strokeWidth":1.5},
"encoding":{"x":{"datum":464.7},"x2":{"datum":476.2},"y":{"datum":12098.9},"y2":{"datum":12083.7}}
},
{
"data":{"values":[{}]},
"mark":{"type":"text","text":"12091.75","align":"center","baseline":"middle","fontSize":10.5,"font":"Open Sans","color":"#3d2a9a"},
"encoding":{"x":{"datum":470.45},"y":{"datum":12091.3}}
},
{
"data":{"values":[{}]},
"mark":{"type":"rect","color":"#00c000"},
"encoding":{"x":{"datum":469.95},"x2":{"datum":477.75},"y":{"datum":11898.9},"y2":{"datum":11885.5}}
},
{
"data":{"values":[{}]},
"mark":{"type":"text","text":"3 L E","align":"center","baseline":"middle","fontSize":11,"font":"Open Sans","color":"#1a4d1a"},
"encoding":{"x":{"datum":473.85},"y":{"datum":11892.2}}
}
]
}
